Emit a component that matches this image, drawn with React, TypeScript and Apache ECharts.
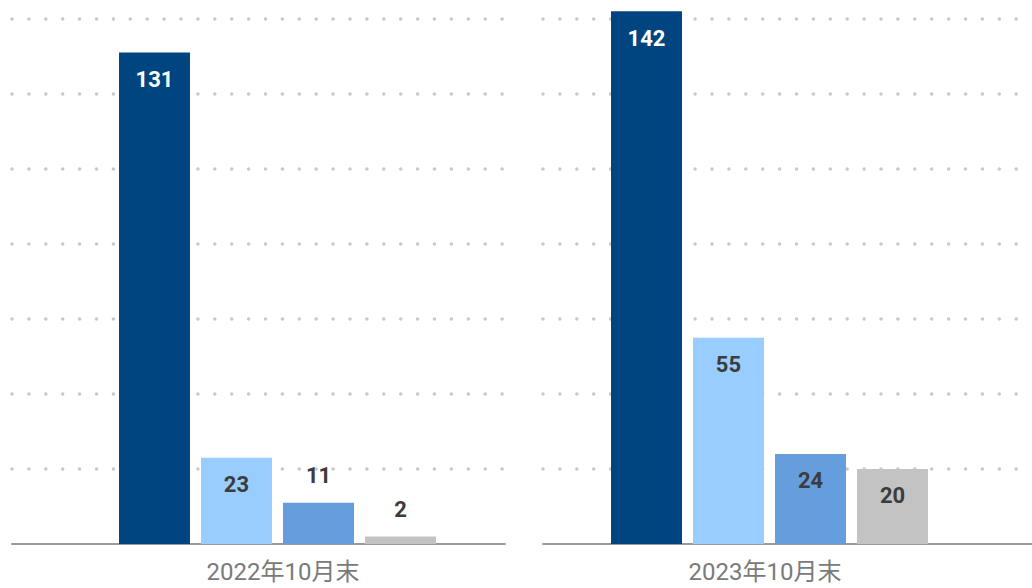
import React, { useEffect, useRef } from "react";
import * as echarts from "echarts";

const periods = ["2022年10月末", "2023年10月末"];
const seriesNames = ["系列1", "系列2", "系列3", "系列4"];
const seriesValues = [
  [131, 142],
  [23, 55],
  [11, 24],
  [2, 20],
];
const seriesColors = ["#00457f", "#99ccff", "#669ddc", "#c3c3c3"];
const labelColors = ["#ffffff", "#3c3c3c", "#3c3c3c", "#3c3c3c"];
const yMax = 145;
const yInterval = 20;

export default function App() {
  const ref = useRef<HTMLDivElement>(null);
  useEffect(() => {
    if (!ref.current) return;
    const chart = echarts.init(ref.current, null, { renderer: "svg" });
    const panelGrids = [
      { left: 12, width: 493, top: 0, bottom: 44 },
      { left: 543, width: 493, top: 0, bottom: 44 },
    ];
    const barGrids = [
      { left: 119, width: 317, top: 0, bottom: 44 },
      { left: 611, width: 317, top: 0, bottom: 44 },
    ];
    const grids = [...panelGrids, ...barGrids];
    const xAxes: any[] = [];
    const yAxes: any[] = [];
    panelGrids.forEach((_, i) => {
      xAxes.push({
        type: "category",
        gridIndex: i,
        data: [""],
        axisLine: { show: true, lineStyle: { color: "#9a9a9a", width: 2 } },
        axisTick: { show: false },
        axisLabel: { show: false },
        splitLine: { show: false },
      });
      yAxes.push({
        type: "value",
        gridIndex: i,
        min: 0,
        max: yMax,
        interval: yInterval,
        axisLine: { show: false },
        axisTick: { show: false },
        axisLabel: { show: false },
        splitLine: {
          show: true,
          showMinLine: false,
          showMaxLine: false,
          lineStyle: { color: "#c8c8c8", width: 3.5, type: [0, 16.9], cap: "round" },
        },
      });
    });
    const labelPads = [
      [0, 0, 0, 11],
      [0, 9, 0, 0],
    ];
    barGrids.forEach((_, i) => {
      xAxes.push({
        type: "category",
        gridIndex: 2 + i,
        data: [periods[i]],
        axisLine: { show: false },
        axisTick: { show: false },
        axisLabel: {
          show: true,
          color: "#7a7a7a",
          fontSize: 24,
          fontFamily: "Roboto, 'Noto Sans CJK JP', sans-serif",
          margin: 16,
          padding: labelPads[i],
        },
        splitLine: { show: false },
      });
      yAxes.push({
        type: "value",
        gridIndex: 2 + i,
        min: 0,
        max: yMax,
        interval: yInterval,
        show: false,
        splitLine: { show: false },
      });
    });
    const series: any[] = [];
    periods.forEach((_, p) => {
      seriesNames.forEach((name, t) => {
        const v = seriesValues[t][p];
        const small = v < 15;
        series.push({
          type: "bar",
          name,
          xAxisIndex: 2 + p,
          yAxisIndex: 2 + p,
          data: [v],
          barWidth: 71,
          barGap: "15.5%",
          itemStyle: { color: seriesColors[t] },
          label: {
            show: true,
            position: small ? "top" : "insideTop",
            distance: 16,
            color: small ? "#3c3c3c" : labelColors[t],
            fontSize: 22,
            fontWeight: "bold",
            fontFamily: "Roboto, sans-serif",
          },
        });
      });
    });
    chart.setOption({
      animation: false,
      backgroundColor: "#ffffff",
      grid: grids,
      xAxis: xAxes,
      yAxis: yAxes,
      series,
    });
    return () => chart.dispose();
  }, []);
  return (
    <div
      ref={ref}
      style={{ position: "absolute", left: 0, top: 0, width: 1032, height: 588 }}
    />
  );
}
